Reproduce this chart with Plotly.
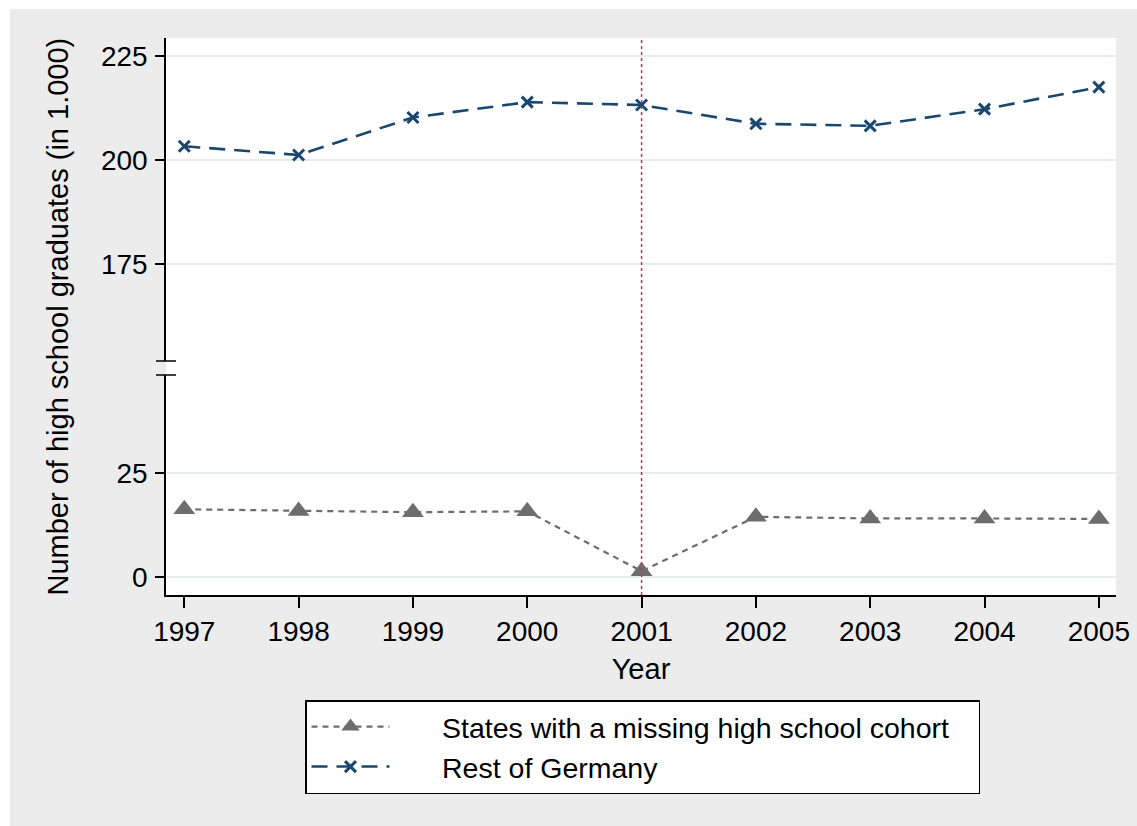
import plotly.graph_objects as go

years = [1997, 1998, 1999, 2000, 2001, 2002, 2003, 2004, 2005]
states_missing = [16.3, 15.9, 15.6, 15.8, 1.5, 14.5, 14.1, 14.1, 14.0]
rest_germany = [203.3, 201.2, 210.2, 213.9, 213.2, 208.7, 208.2, 212.2, 217.5]
top_ticks = [175, 200, 225]
bottom_ticks = [0, 25]
event_year = 2001

FONT = "Liberation Sans, Arial, sans-serif"
FS = 28
W, H = 1137, 826
L, R, T, B = 166, 21, 38, 231
pw, ph = W - L - R, H - T - B
BG = "#ececec"


def px_x(p):
    return (p - L) / pw


def px_y(p):
    return (T + ph - p) / ph


top_dom = [px_y(361), 1.0]
bot_dom = [0.0, px_y(375)]
PAD = "\u00a0" * 6

fig = go.Figure()
fig.add_trace(go.Scatter(
    x=years, y=states_missing,
    name=PAD + "States with a missing high school cohort" + "\u00a0" * 3,
    xaxis="x", yaxis="y2", mode="lines+markers",
    line=dict(color="#6d6d6d", width=2.2, dash="6px,5px"),
    marker=dict(symbol="triangle-up", size=19, color="#6d6d6d"),
))
fig.add_trace(go.Scatter(
    x=years, y=rest_germany, name=PAD + "Rest of Germany",
    xaxis="x", yaxis="y", mode="lines+markers",
    line=dict(color="#1a476f", width=2.6, dash="16px,9px"),
    marker=dict(symbol="x-thin-open", size=11, color="#1a476f",
                line=dict(color="#1a476f", width=3)),
))

axis_common = dict(
    showline=True, linecolor="black", linewidth=1.5,
    ticks="outside", ticklen=9, tickwidth=1.5, tickcolor="black",
    tickfont=dict(family=FONT, size=FS, color="black"),
    zeroline=False,
)

fig.update_layout(
    width=W, height=H, autosize=False,
    margin=dict(l=L, r=R, t=T, b=B, pad=0),
    paper_bgcolor=BG, plot_bgcolor="white",
    font=dict(family=FONT, size=FS, color="black"),
    xaxis=dict(
        axis_common, anchor="y2", range=[1996.84, 2005.15],
        tickvals=years, ticktext=[str(y) for y in years], showgrid=False,
        ticklen=11, automargin=False,
        title=dict(text="Year", font=dict(family=FONT, size=29), standoff=12),
    ),
    yaxis=dict(
        axis_common, domain=top_dom, anchor="x", range=[151.7, 229.3],
        tickvals=top_ticks, showgrid=True, gridcolor="#e4eef0", gridwidth=2,
        ticklabelstandoff=2, automargin=False,
    ),
    yaxis2=dict(
        axis_common, domain=bot_dom, anchor="x", range=[-4.2, 48.4],
        tickvals=bottom_ticks, showgrid=True, gridcolor="#e4eef0", gridwidth=2,
        ticklabelstandoff=2, automargin=False,
    ),
    showlegend=True,
    legend=dict(
        x=px_x(305), y=px_y(700), xanchor="left", yanchor="top",
        bgcolor="white", bordercolor="black", borderwidth=1.5,
        font=dict(family=FONT, size=28.5, color="black"),
        itemwidth=78, traceorder="normal",
    ),
    shapes=[
        # white outer border strips (top and left)
        dict(type="rect", xref="paper", yref="paper", layer="below",
             x0=-0.3, x1=1.2, y0=px_y(9), y1=1.2,
             fillcolor="white", line=dict(width=0)),
        dict(type="rect", xref="paper", yref="paper", layer="below",
             x0=-0.3, x1=px_x(10), y0=-0.6, y1=1.2,
             fillcolor="white", line=dict(width=0)),
        dict(type="rect", xref="paper", yref="paper", layer="below",
             x0=0, x1=1, y0=0, y1=1,
             fillcolor="white", line=dict(width=0)),
        dict(type="line", xref="x", yref="paper", x0=event_year, x1=event_year,
             y0=0, y1=1, line=dict(color="#b8374f", width=1.5, dash="dot")),
        dict(type="line", xref="x domain", yref="y domain", xsizemode="pixel",
             xanchor=0, x0=-10, x1=10, y0=0, y1=0,
             line=dict(color="black", width=1.5)),
        dict(type="line", xref="x domain", yref="y2 domain", xsizemode="pixel",
             xanchor=0, x0=-10, x1=10, y0=1, y1=1,
             line=dict(color="black", width=1.5)),
    ],
    annotations=[
        dict(text="Number of high school graduates (in 1.000)",
             xref="paper", yref="paper", x=px_x(57), y=0.5,
             xanchor="center", yanchor="middle",
             textangle=-90, showarrow=False,
             font=dict(family=FONT, size=29, color="black")),
    ],
)

fig.write_html(
    "out.html",
    config={"displayModeBar": False},
    post_script="document.body.style.margin='0';document.body.style.overflow='hidden';",
)
